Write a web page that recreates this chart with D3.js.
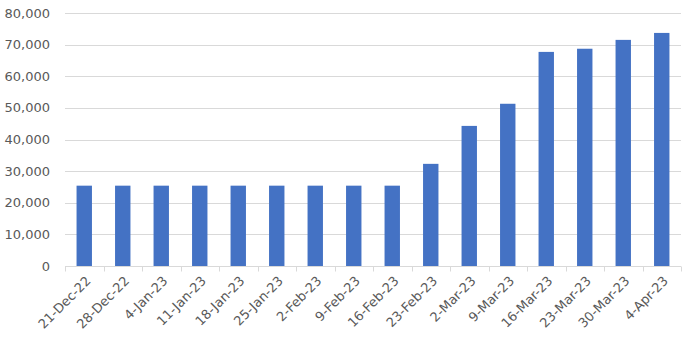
<!DOCTYPE html>
<html><head><meta charset="utf-8">
<script src="https://cdn.jsdelivr.net/npm/d3@7"></script>
<style>body{margin:0;background:#fff}svg{display:block}</style>
</head><body>
<svg id="c" width="688" height="344"></svg>
<script>
const categories = ["21-Dec-22","28-Dec-22","4-Jan-23","11-Jan-23","18-Jan-23","25-Jan-23","2-Feb-23","9-Feb-23","16-Feb-23","23-Feb-23","2-Mar-23","9-Mar-23","16-Mar-23","23-Mar-23","30-Mar-23","4-Apr-23"];
const values = [25400,25400,25400,25400,25400,25400,25400,25400,25400,32300,44300,51300,67700,68700,71500,73700];
const yTicks = [0,10000,20000,30000,40000,50000,60000,70000,80000];

const svg = d3.select("#c");
const m = {left:65, right:7, top:13, bottom:78};
const W = 688, H = 344;
const x = d3.scaleBand().domain(categories).range([m.left, W-m.right]).paddingInner(0.6).paddingOuter(0.3);
const xb = d3.scaleBand().domain(categories).range([m.left, W-m.right]);
const y = d3.scaleLinear().domain([0,80000]).range([H-m.bottom, m.top]);
const font = "DejaVu Sans, sans-serif";

// gridlines
svg.append("g").selectAll("line").data(yTicks.slice(1)).join("line")
  .attr("x1", m.left).attr("x2", W-m.right)
  .attr("y1", d=>Math.round(y(d))+0.5).attr("y2", d=>Math.round(y(d))+0.5)
  .attr("stroke", "#d9d9d9").attr("stroke-width", 1);

// y labels
const fmt = d3.format(",");
svg.append("g").selectAll("text").data(yTicks).join("text")
  .attr("x", 50).attr("y", d=>y(d)).attr("dy","0.35em")
  .attr("text-anchor","end").attr("font-family",font).attr("font-size","13px")
  .attr("fill","#595959").text(d=>fmt(d));

// bars
svg.append("g").selectAll("rect").data(values).join("rect")
  .attr("x", (d,i)=>x(categories[i])).attr("width", x.bandwidth())
  .attr("y", d=>y(d)).attr("height", d=>y(0)-y(d))
  .attr("fill","#4472c4");

// x axis
const ax = svg.append("g");
const y0 = Math.round(y(0))+0.5;
ax.append("line").attr("x1", m.left).attr("x2", W-m.right).attr("y1", y0).attr("y2", y0)
  .attr("stroke","#d9d9d9");
const bounds = categories.map(c=>xb(c)).concat([W-m.right]);
ax.selectAll("line.t").data(bounds).join("line").attr("class","t")
  .attr("x1", d=>Math.round(d)+0.5).attr("x2", d=>Math.round(d)+0.5)
  .attr("y1", y0).attr("y2", y0+5).attr("stroke","#d9d9d9");
ax.selectAll("text").data(categories).join("text")
  .attr("transform", d=>`translate(${xb(d)+xb.bandwidth()/2+4},${y0+12}) rotate(-45)`)
  .attr("text-anchor","end").attr("dy","0.35em")
  .attr("font-family",font).attr("font-size","13px").attr("fill","#595959")
  .text(d=>d);
</script>
</body></html>
